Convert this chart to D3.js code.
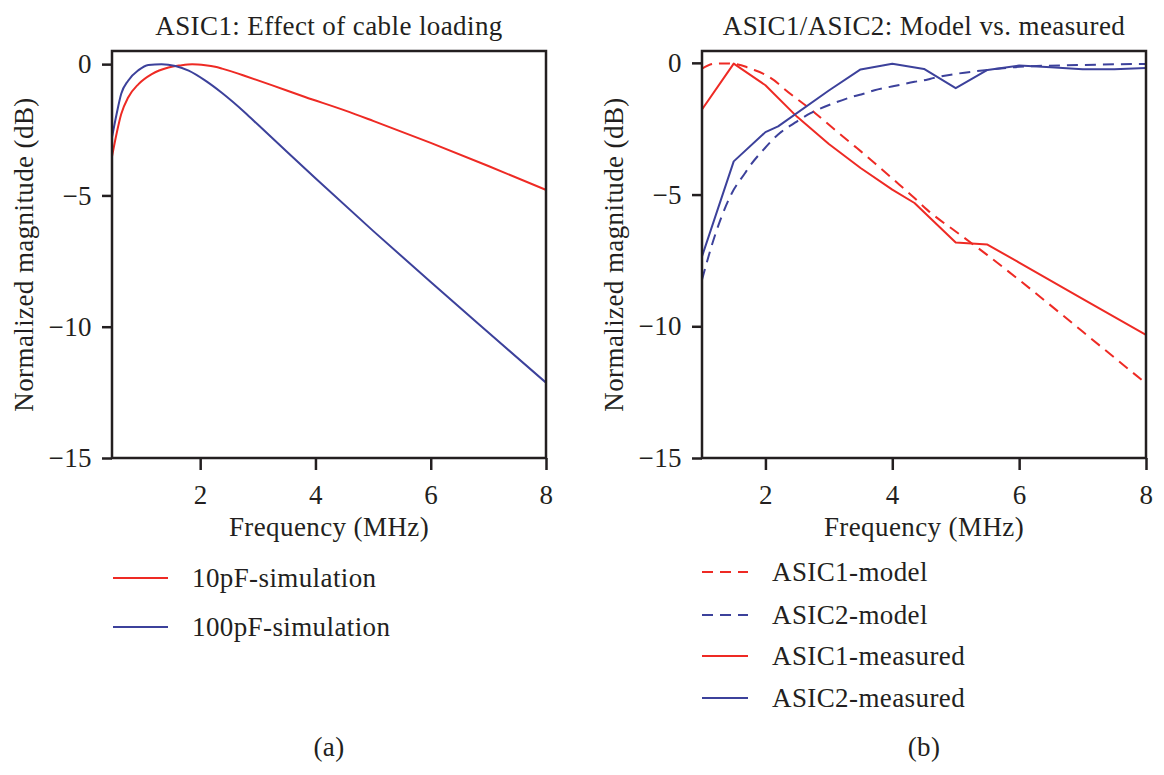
<!DOCTYPE html>
<html>

<head>
  <meta charset="UTF-8">
  <style>
    body { margin: 0; background: #fff; }
    svg { display: block; }
    text { font-family: "Liberation Serif", "Times New Roman", serif; font-size: 27px; letter-spacing: 0.4px; fill: #231f20; }
  </style>
</head>

<body>
  <svg></svg>
  <script src="https://d3js.org/d3.v7.min.js"></script>

  <script>

    let width = 1164, height = 775;

    // (a) ASIC1: effect of cable loading
    let sim10Freq = [0.47, 0.55, 0.63, 0.75, 0.93, 1.16, 1.45, 1.65, 1.86, 2.09, 2.26, 2.38, 2.66, 2.78, 3.24, 3.82, 4.52, 5, 6, 7, 8];
    let sim10pF = [-3.52, -2.64, -1.9, -1.27, -0.76, -0.38, -0.13, -0.05, 0, -0.04, -0.1, -0.17, -0.36, -0.45, -0.8, -1.25, -1.77, -2.16, -3.0, -3.88, -4.79];

    let sim100Freq = [0.47, 0.55, 0.63, 0.75, 0.93, 1.1, 1.33, 1.57, 1.8, 2.09, 2.38, 2.78, 3, 3.5, 4, 5, 6, 7, 8];
    let sim100pF = [-2.79, -1.9, -1.13, -0.63, -0.23, -0.03, 0, -0.07, -0.25, -0.63, -1.1, -1.85, -2.3, -3.33, -4.35, -6.35, -8.3, -10.22, -12.13];

    // (b) ASIC1/ASIC2: model vs. measured
    let modelFreq = [1, 1.2, 1.41, 1.47, 1.68, 1.73, 1.99, 2.2, 2.25, 2.46, 2.51, 2.72, 2.78, 3.09, 3.41, 3.51, 3.72, 4.03, 4.35, 4.56, 4.64, 5, 5.5, 6, 7, 8];
    let asic1Model = [-0.22, -0.03, -0.02, -0.03, -0.14, -0.19, -0.44, -0.78, -0.89, -1.3, -1.39, -1.78, -1.9, -2.53, -3.17, -3.37, -3.8, -4.45, -5.13, -5.6, -5.76, -6.4, -7.3, -8.24, -10.2, -12.17];
    let asic2Model = [-8.23, -6.58, -5.25, -4.95, -4.18, -4.0, -3.24, -2.72, -2.62, -2.28, -2.2, -1.9, -1.83, -1.52, -1.26, -1.2, -1.04, -0.88, -0.72, -0.63, -0.58, -0.42, -0.27, -0.15, -0.08, -0.04];

    let asic1MeasFreq = [1, 1.5, 2, 2.5, 3, 3.5, 4, 4.35, 5, 5.5, 6, 7, 8];
    let asic1Meas = [-1.77, -0.03, -0.85, -2.05, -3.08, -3.99, -4.81, -5.32, -6.82, -6.9, -7.58, -8.96, -10.33];

    let asic2MeasFreq = [1, 1.5, 2, 2.2, 3, 3.5, 4, 4.5, 5, 5.5, 6, 6.5, 7, 7.5, 8];
    let asic2Meas = [-7.35, -3.74, -2.63, -2.41, -1.05, -0.25, -0.03, -0.23, -0.96, -0.27, -0.1, -0.17, -0.24, -0.24, -0.2];

    let yTicks = [0, -5, -10, -15];
    let xTicks = [2, 4, 6, 8];

    let red = "#ee2a24", blue = "#3c419b";

    let svg = d3.select("svg")
      .attr("width", width)
      .attr("height", height)
      .attr("viewBox", "0 0 " + width + " " + height);

    function zip(xs, ys) {
      return xs.map((x, i) => [x, ys[i]]);
    }

    function drawPanel(cfg) {
      let x = d3.scaleLinear().domain(cfg.xDomain).range([cfg.left, cfg.right]);
      let y = d3.scaleLinear().domain(cfg.yDomain).range([cfg.bottom, cfg.top]);
      let cx = (cfg.left + cfg.right) / 2;

      let g = svg.append("g");

      // lines, clipped to the frame
      let clipId = "clip-" + cfg.name;
      svg.append("clipPath").attr("id", clipId)
        .append("rect")
        .attr("x", cfg.left).attr("y", cfg.top)
        .attr("width", cfg.right - cfg.left).attr("height", cfg.bottom - cfg.top);

      let lines = g.append("g").attr("clip-path", "url(#" + clipId + ")");
      cfg.series.forEach(s => {
        let line = d3.line()
          .x(d => x(d[0]))
          .y(d => y(d[1]))
          .curve(s.smooth ? d3.curveMonotoneX : d3.curveLinear);
        lines.append("path")
          .datum(zip(s.freq, s.values))
          .attr("d", line)
          .attr("fill", "none")
          .attr("stroke", s.color)
          .attr("stroke-width", 2)
          .attr("stroke-dasharray", s.dashed ? "11,7" : null)
          .attr("stroke-linejoin", "round");
      });

      // axes
      let yAxis = d3.axisLeft(y)
        .tickValues(yTicks)
        .tickSize(10)
        .tickPadding(10)
        .tickFormat(d3.format("d"));
      let xAxis = d3.axisBottom(x)
        .tickValues(xTicks)
        .tickSize(12)
        .tickPadding(15)
        .tickFormat(d3.format("d"));

      let ya = g.append("g").attr("transform", "translate(" + cfg.left + ",0)").call(yAxis);
      let xa = g.append("g").attr("transform", "translate(0," + cfg.bottom + ")").call(xAxis);
      [ya, xa].forEach(a => {
        a.select(".domain").remove();
        a.selectAll("line").attr("stroke", "#231f20").attr("stroke-width", 2.5);
        a.selectAll("text").attr("font-family", null).attr("font-size", null).attr("fill", null);
      });

      // frame
      g.append("rect")
        .attr("x", cfg.left).attr("y", cfg.top)
        .attr("width", cfg.right - cfg.left).attr("height", cfg.bottom - cfg.top)
        .attr("fill", "none")
        .attr("stroke", "#231f20")
        .attr("stroke-width", 2.5);

      // texts
      g.append("text")
        .attr("x", cx).attr("y", 35)
        .attr("text-anchor", "middle")
        .text(cfg.title);

      g.append("text")
        .attr("x", cx).attr("y", 536)
        .attr("text-anchor", "middle")
        .text("Frequency (MHz)");

      g.append("text")
        .attr("transform", "translate(" + (cfg.left - 79) + "," + ((cfg.top + cfg.bottom) / 2) + ") rotate(-90)")
        .attr("text-anchor", "middle")
        .text("Normalized magnitude (dB)");

      g.append("text")
        .attr("x", cx).attr("y", 756)
        .attr("text-anchor", "middle")
        .text(cfg.caption);

      // legend
      let lg = g.append("g");
      cfg.series.filter(s => s.legendY).sort((a, b) => a.legendY - b.legendY).forEach(s => {
        lg.append("line")
          .attr("x1", cfg.legendX).attr("x2", cfg.legendX + cfg.legendLen)
          .attr("y1", s.legendY).attr("y2", s.legendY)
          .attr("stroke", s.color)
          .attr("stroke-width", 2)
          .attr("stroke-dasharray", s.dashed ? "11,7" : null);
        lg.append("text")
          .attr("x", cfg.legendX + cfg.legendLen + 24)
          .attr("y", s.legendY)
          .attr("dy", "0.33em")
          .text(s.name);
      });
    }

    drawPanel({
      name: "a",
      title: "ASIC1: Effect of cable loading",
      caption: "(a)",
      left: 112, right: 546, top: 51, bottom: 458,
      xDomain: [0.47, 8], yDomain: [-15, 0.5],
      legendX: 113, legendLen: 55,
      series: [
        { name: "10pF-simulation", freq: sim10Freq, values: sim10pF, color: red, smooth: true, legendY: 578 },
        { name: "100pF-simulation", freq: sim100Freq, values: sim100pF, color: blue, smooth: true, legendY: 627 }
      ]
    });

    drawPanel({
      name: "b",
      title: "ASIC1/ASIC2: Model vs. measured",
      caption: "(b)",
      left: 702, right: 1146, top: 51, bottom: 458,
      xDomain: [1, 8], yDomain: [-15, 0.45],
      legendX: 702, legendLen: 46,
      series: [
        { name: "ASIC1-model", freq: modelFreq, values: asic1Model, color: red, smooth: true, dashed: true, legendY: 572 },
        { name: "ASIC2-model", freq: modelFreq, values: asic2Model, color: blue, smooth: true, dashed: true, legendY: 615 },
        { name: "ASIC1-measured", freq: asic1MeasFreq, values: asic1Meas, color: red, legendY: 656 },
        { name: "ASIC2-measured", freq: asic2MeasFreq, values: asic2Meas, color: blue, legendY: 698 }
      ]
    });

  </script>

</body>

</html>
